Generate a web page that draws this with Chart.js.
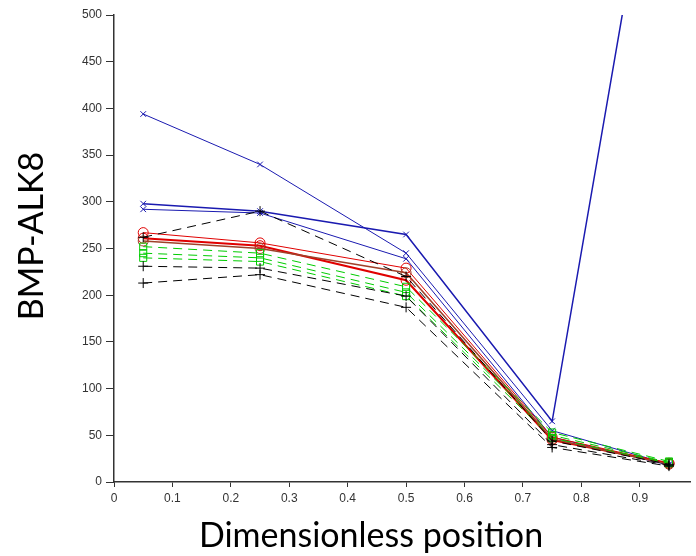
<!DOCTYPE html>
<html>
<head>
<meta charset="utf-8">
<script src="https://cdn.jsdelivr.net/npm/chart.js@4.4.1/dist/chart.umd.min.js"></script>
<style>
  html, body { margin: 0; padding: 0; background: #fff; }
  #chart { display: block; }
</style>
</head>
<body>
<canvas id="chart" width="696" height="556"></canvas>
<script>
// sample positions along the axis
const positions = [0.05, 0.25, 0.5, 0.75, 0.95];
const xTicks = [0, 0.1, 0.2, 0.3, 0.4, 0.5, 0.6, 0.7, 0.8, 0.9];

// BMP-ALK8 profiles
const blueA = [394, 340, 245, 55, 19];
const blueB = [298, 290, 265, 65, 790];
const blueC = [292, 288, 239, 48, 18];
const redA = [267, 256, 229, 48, 20];
const redB = [261, 253, 216, 45, 20];
const brownA = [258, 250, 224, 46, 19];
const greenA = [252, 245, 209, 53, 22];
const greenB = [245, 240, 203, 50, 21];
const greenC = [240, 236, 199, 47, 20];
const blackA = [262, 290, 220, 44, 19];
const blackB = [231, 229, 199, 40, 18];
const blackC = [213, 222, 187, 37, 17];

const toPoints = vals => vals.map((v, i) => ({ x: positions[i], y: v }));

const series = (vals, color, marker, dashed, width) => ({
    data: toPoints(vals),
    borderColor: color,
    backgroundColor: 'rgba(0,0,0,0)',
    borderWidth: width || 1,
    borderDash: dashed ? [9, 6] : [],
    pointStyle: marker,
    pointRadius: marker === 'crossRot' ? 4 : 5,
    pointBorderColor: color,
    pointBackgroundColor: 'rgba(0,0,0,0)',
    pointBorderWidth: 1,
    tension: 0
});

const datasets = [
    series(blackC, '#000000', 'cross', true),
    series(blackB, '#000000', 'cross', true),
    series(blackA, '#000000', 'cross', true),
    series(greenC, '#00cc00', 'rect', true),
    series(greenB, '#00cc00', 'rect', true),
    series(greenA, '#00cc00', 'rect', true),
    series(brownA, '#a0402a', 'circle', false, 1.5),
    series(redB, '#e00000', 'circle', false, 2),
    series(redA, '#e00000', 'circle', false, 1),
    series(blueC, '#1a1ab0', 'crossRot', false, 1),
    series(blueB, '#1a1ab0', 'crossRot', false, 1.5),
    series(blueA, '#1a1ab0', 'crossRot', false, 1)
];

// axis titles drawn at the spots they sit in the figure
const axisTitles = {
    id: 'axisTitles',
    afterDraw(chart) {
        const ctx = chart.ctx;
        ctx.save();
        ctx.fillStyle = '#000';
        ctx.font = '34px Lato, "Open Sans", sans-serif';
        ctx.textAlign = 'center';
        ctx.textBaseline = 'middle';
        ctx.fillText('Dimensionless position', 371, 536);
        ctx.translate(32, 236);
        ctx.rotate(-Math.PI / 2);
        ctx.fillText('BMP-ALK8', 0, 0);
        ctx.restore();
    }
};

new Chart(document.getElementById('chart'), {
    type: 'line',
    data: { datasets: datasets },
    options: {
        responsive: false,
        animation: false,
        layout: { padding: { top: 15, right: 0, left: 0, bottom: 0 } },
        plugins: {
            legend: { display: false },
            tooltip: { enabled: false }
        },
        scales: {
            x: {
                type: 'linear',
                min: 0,
                max: 0.986,
                afterBuildTicks: scale => {
                    scale.ticks = xTicks.map(v => ({ value: v }));
                },
                afterFit: scale => { scale.height = 74; },
                grid: { drawOnChartArea: false, drawTicks: true, tickLength: 5, color: '#333' },
                border: { display: true, color: '#333', width: 1.5 },
                ticks: {
                    color: '#333',
                    font: { family: 'Liberation Sans, Arial, sans-serif', size: 12 },
                    padding: 4,
                    maxRotation: 0,
                    callback: v => String(v)
                }
            },
            y: {
                min: 0,
                max: 500,
                afterFit: scale => { scale.width = 114; },
                grid: { drawOnChartArea: false, drawTicks: true, tickLength: 8, color: '#333' },
                border: { display: true, color: '#333', width: 1.5 },
                ticks: {
                    stepSize: 50,
                    color: '#333',
                    font: { family: 'Liberation Sans, Arial, sans-serif', size: 12 },
                    padding: 4
                }
            }
        }
    },
    plugins: [axisTitles]
});
</script>
</body>
</html>
